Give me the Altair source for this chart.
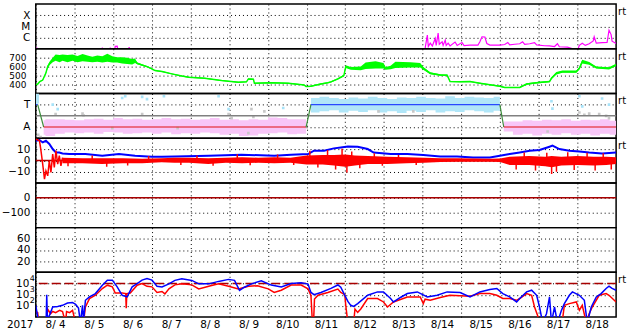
import altair as alt
import pandas as pd

W, H = 584, 45
FONT = "DejaVu Sans"
FS = 10.5

# ---------------- x axis (hours since 2017-08-04 00:00) ----------------
day_hours = list(range(0, 337, 24))

# ---------------- panel 1 : X-ray flux (log10 W/m2) ----------------
xray_h = [0, 0.6, 1.2, 40.7, 41.3, 41.9, 45.6, 46.2, 46.8, 48.7, 49.3, 50.5, 51.2, 57.3, 57.9, 58.6,
          241.0, 241.6, 242.9, 243.5, 244.7, 246.0, 247.8, 248.4, 249.6, 250.3,
          252.1, 252.7, 254.0, 254.6, 255.8, 257.0, 260.1, 261.4, 264.4, 265.7,
          269.4, 274.3, 275.5, 276.8, 278.6, 279.8, 281.7, 287.9, 290.9, 292.8,
          294.0, 297.1, 300.2, 302.0, 303.3, 306.4, 309.4, 310.7, 315.6, 318.7,
          321.8, 323.6, 324.8, 329.8, 332.2, 335.9, 337.2, 339.0, 340.9, 343.3,
          345.8, 346.4, 347.7, 351.3, 354.4, 355.6, 356.9, 357.5, 360]
xray_log = [-7.3, -6.9, -7.3, -7.3, -6.9, -7.3, -7.3, -6.9, -7.3, -7.3, -6.78, -6.76, -7.3, -7.3, -6.85, -7.3,
            -7.3, -6.9, -5.78, -6.8, -6.5, -6.75, -6.08, -6.7, -5.6, -6.6,
            -6.38, -6.7, -6.23, -6.7, -6.5, -6.75, -6.4, -6.7, -6.45, -6.72,
            -6.67, -6.67, -6.38, -5.93, -5.95, -6.53, -6.67, -6.67, -6.62, -6.44,
            -6.65, -6.6, -6.55, -6.38, -6.6, -6.55, -6.45, -6.65, -6.73, -6.75,
            -6.8, -6.55, -6.82, -6.85, -6.95, -7.2, -6.7, -6.5, -6.7, -6.55,
            -6.3, -5.93, -6.5, -6.45, -6.44, -5.34, -5.73, -6.32, -6.53]

# ---------------- panel 2 : solar wind speed ----------------
sw_h = [0, 1.2, 2.5, 4.3, 6.2, 7.4, 8.6, 10.5, 12.3, 14.8,
        16.6, 19.7, 22.8, 25.9, 29.0, 32.1, 35.1, 38.2, 41.3, 44.4,
        47.5, 50.5, 53.6, 56.7, 59.8, 61.6, 62.9, 65.9, 69.0, 72.1,
        74.0, 78.3, 84.4, 90.6, 94.9, 104.8, 115.3, 125.7, 130.7, 131.9,
        135.0, 135.6, 146.1, 156.6, 166.4, 167.7, 170.7, 176.9, 181.2, 183.1,
        187.4, 191.1, 192.3, 193.6, 195.4, 201.6, 204.6, 210.8, 215.7, 217.0,
        220.1, 223.1, 232.4, 238.5, 240.4, 244.7, 250.9, 255.2, 257.0, 263.2,
        269.4, 275.5, 287.9, 290.9, 300.2, 304.5, 310.7, 318.7, 319.9, 323.0,
        326.7, 335.3, 337.2, 339.0, 343.3, 347.7, 355.6, 360]
sw_v = [397, 405, 433, 450, 525, 600, 637, 674, 700, 690,
        700, 690, 700, 685, 700, 690, 680, 690, 680, 700,
        680, 675, 670, 665, 655, 665, 637, 619, 600, 575,
        556, 545, 519, 495, 481, 470, 444, 426, 430, 463,
        460, 415, 419, 415, 396, 378, 381, 407, 420, 430,
        463, 500, 600, 592, 581, 581, 610, 620, 610, 581,
        590, 620, 620, 615, 581, 526, 507, 505, 433, 430,
        433, 415, 380, 367, 367, 405, 420, 433, 470, 526,
        544, 544, 581, 656, 637, 590, 581, 619]
sw_n = [3, 3, 5, 5, 10, 15, 20, 25, 35, 40,
        35, 40, 35, 35, 40, 35, 30, 35, 35, 45,
        35, 30, 35, 35, 30, 25, 10, 8, 6, 6,
        5, 6, 5, 6, 5, 6, 5, 5, 5, 6,
        5, 5, 6, 5, 5, 5, 5, 6, 6, 8,
        8, 10, 15, 15, 15, 20, 35, 40, 30, 15,
        20, 35, 30, 25, 15, 10, 8, 8, 6, 5,
        5, 5, 5, 5, 5, 8, 8, 8, 10, 15,
        12, 12, 12, 20, 15, 12, 12, 12]

# ---------------- panel 3 : IMF polarity (T = +1, A = -1) ----------------
pol_seg = ["b1", "b1", "g1", "g1", "r1", "r1", "g2", "g2", "b2", "b2", "g3", "g3", "r2", "r2"]
pol_h = [0, 1.2, 1.2, 4.9, 4.9, 167.7, 167.7, 170.7, 170.7, 287.9, 287.9, 290.3, 290.3, 360]
pol_v = [1, 1, 1, -1, -1, -1, -1, 1, 1, 1, 1, -1, -1, -1]

pinkA_h = [4.9, 6, 12, 18, 24, 30, 36, 42, 48, 54, 60, 66, 72, 78, 84, 90, 96, 102, 108, 114,
           120, 126, 132, 138, 144, 150, 156, 162, 167.7]
pinkA_lo = [-1.7, -1.8, -1.6, -1.5, -1.55, -1.5, -1.6, -1.45, -1.5, -1.6, -1.55, -1.5, -1.6, -1.5, -1.65,
            -1.55, -1.6, -1.5, -1.55, -1.7, -1.6, -1.8, -1.75, -1.6, -1.55, -1.5, -1.65, -1.6, -1.5]
pinkA_hi = [-0.4, -0.3, -0.3, -0.35, -0.4, -0.3, -0.25, -0.35, -0.2, -0.3, -0.25, -0.35, -0.3, -0.2, -0.3,
            -0.25, -0.35, -0.3, -0.2, -0.35, -0.3, -0.4, -0.3, -0.35, -0.15, -0.2, -0.3, -0.3, -0.4]
pinkB_h = [290.3, 296, 302, 308, 314, 320, 326, 332, 338, 344, 350, 356, 360]
pinkB_lo = [-1.4, -1.7, -1.6, -1.75, -1.6, -1.7, -1.55, -1.7, -1.6, -1.75, -1.6, -1.7, -1.6]
pinkB_hi = [-0.5, -0.5, -0.4, -0.45, -0.35, -0.4, -0.3, -0.45, -0.35, -0.4, -0.3, -0.45, -0.4]

lblue_h = [0, 1.2, 2.0, 170.7, 176, 182, 188, 194, 200, 206, 212, 218, 224, 230, 236, 242, 248, 254,
           260, 266, 272, 278, 284, 287.9]
lblue_seg = ["a", "a", "a"] + ["b"] * 21
lblue_lo = [1.0, 1.1, 1.3, 0.3, 0.4, 0.5, 0.3, 0.45, 0.35, 0.5, 0.3, 0.4, 0.25, 0.45, 0.35, 0.5, 0.3, 0.4,
            0.35, 0.5, 0.4, 0.3, 0.45, 0.5]
lblue_hi = [2.0, 2.0, 1.9, 1.6, 1.7, 1.6, 1.5, 1.65, 1.55, 1.7, 1.6, 1.5, 1.65, 1.6, 1.7, 1.6, 1.55, 1.75,
            1.6, 1.7, 1.65, 1.6, 1.7, 1.6]

cyan_h = [10.5, 13.6, 53.6, 55.5, 66.0, 69.0, 79.5, 113.4, 119.6, 153.5, 319.9, 320.5, 337.2, 339.0, 351.3, 355.6]
cyan_v = [1.0, 0.6, 1.6, 1.75, 1.7, 1.5, 1.75, 1.75, 0.6, 0.7, 1.3, 0.65, 1.75, 0.85, 1.55, 1.0]
gray_h = [1.5, 3.0, 12.3, 29.0, 29.6, 47.5, 66.0, 88.0, 119.6, 121.5, 131.9, 141.8, 133.8, 135.0,
          212.6, 234.2, 317.5, 337.2, 340.3, 343.3, 349.5, 353.8, 355.6]
gray_v = [-1.7, -1.9, 0.15, 0.2, 0.05, -1.1, 0.15, -1.1, 0.15, -0.2, -1.55, 0.4, 0.6, -0.1,
          0.4, 0.4, -1.4, 0.3, 0.1, 0.2, 0.15, 0.0, -0.2]

# ---------------- panel 4 : IMF Bt (blue) and Bz (red), nT ----------------
bt_h = [0, 2.3, 4.3, 6.3, 8.4, 10.5, 12.5, 14.6, 16.6, 20.8,
        30.8, 41.3, 51.6, 61.6, 72.1, 78.3, 86.3, 107.3, 127.6, 147.9,
        158.4, 168.9, 172.6, 178.8, 184.9, 189.2, 193.6, 199.7, 205.9, 209.6,
        220.1, 230.5, 240.4, 250.9, 261.4, 271.2, 281.7, 287.9, 294.0, 300.2,
        306.4, 312.5, 318.7, 320.5, 324.8, 331.0, 337.2, 343.3, 351.3, 360]
bt_v = [17.7, 18.4, 16.2, 17.7, 14.8, 10.3, 7.2, 7.2, 6.3, 5.8,
        5.8, 4.3, 5.8, 4.3, 3.4, 3.4, 3.7, 4.3, 5.2, 4.3,
        5.2, 5.8, 8.8, 8.8, 10.9, 11.7, 12.6, 12.4, 10.3, 7.2,
        5.8, 5.8, 4.9, 3.7, 3.7, 2.7, 2.7, 4.3, 5.8, 7.2,
        8.8, 9.4, 12.4, 13.3, 10.3, 8.8, 8.1, 7.2, 6.3, 7.2]
bz1_h = [0, 2.3, 3.1, 4.3, 5.4, 6.3, 7.4, 8.4, 9.4, 10.5, 11.5, 12.5, 13.6, 14.6, 15.6, 16.6]
bz1_v = [19.3, 17.7, 10.3, -3.2, -16.7, -9.2, -13.7, -0.2, -10.7, 5.8, -6.2, 8.8, -3.2, 4.3, -4.7, 2.7]
# dense core of the Bz trace
bz_h = [16.6, 29, 41, 54, 66, 78, 86, 95, 107, 118,
        128, 138, 148, 158, 168, 178, 185, 192, 198, 206,
        218, 230, 241, 251, 262, 272, 282, 288, 294, 306,
        316, 320, 326, 336, 346, 354, 360]
bz_lo = [-2.5, -2.5, -3, -2.5, -2.5, -1.5, -2, -2, -3, -2,
         -2.5, -2, -2.5, -2, -3.5, -3.5, -4.5, -5.5, -4.5, -3,
         -3, -2.5, -2, -1.2, -1, -1, -1, -1.2, -4, -4,
         -5, -6, -4.5, -4, -4.5, -4, -3]
bz_hi = [2.5, 2, 2, 2, 1.5, 2, 2.5, 2.5, 2, 2.5,
         3, 2.5, 3, 2.5, 4.5, 5, 5, 5.5, 4.5, 4,
         3.5, 3, 2.5, 2, 2, 1.8, 1.5, 1.8, 3.5, 4,
         3.5, 4, 3.5, 4, 3.5, 3.5, 3]
# isolated Bz excursions
bzs_h = [20, 35, 44, 57, 70, 90, 100, 110, 125, 133, 150, 160, 170, 175, 181, 186, 190, 193, 196,
         201, 210, 215, 225, 236, 298, 303, 310, 317, 320, 323, 330, 334, 342, 347, 352, 357]
bzs_v = [-5, 4.5, -5.5, -4.5, 4, -4, 4.5, -4.7, 5.6, -4.2, 5.5, -4, 8.8, -6.2, 9.5, -8, 10.5, -10.7, 8,
         -7, 6.6, -4.7, 5, -4, -8, 7.2, -9, 7, -12, -10, 7.5, -8.5, 7, -9, 6.5, -8]

# ---------------- panel 7 : electron flux (log10) ----------------
eb_h = [0, 1.8, 6.4, 6.8, 7.2, 8.6, 10.5, 13.6, 16.6, 19.7,
        22.8, 24.7, 26.5, 27.7, 29.0, 29.6, 30.8, 33.3, 37.0, 41.3,
        44.4, 47.5, 50.5, 53.6, 56.7, 59.8, 62.9, 65.9, 69.0, 72.1,
        75.2, 78.3, 82.6, 86.3, 90.6, 96.8, 101.1, 107.3, 113.4, 119.6,
        123.3, 126.4, 129.4, 133.8, 139.9, 146.1, 152.3, 158.4, 164.6, 168.9,
        170.7, 172.6, 176.9, 183.1, 187.4, 189.2, 193.6, 195.4, 197.2, 199.7,
        205.9, 212.0, 215.7, 220.1, 221.9, 226.2, 230.5, 236.7, 242.9, 249.0,
        255.2, 263.2, 269.4, 275.5, 281.7, 286.0, 289.7, 294.0, 298.3, 300.2,
        304.5, 307.6, 310.7, 312.5, 314.4, 316.8, 318.7, 319.9, 321.8, 323.6,
        326.1, 327.9, 331.0, 332.9, 337.2, 340.3, 342.1, 344.6, 347.7, 350.7,
        353.8, 355.6, 357.5, 360]
eb_log = [2.05, 0.5, 0.5, 3.0, 0.8, 1.2, 1.9, 1.95, 2.05, 2.25,
          2.3, 2.15, 1.8, 0.5, 2.05, 0.6, 2.5, 2.8, 3.1, 3.85,
          4.3, 4.3, 3.7, 2.95, 2.8, 3.7, 4.0, 4.3, 4.45, 4.3,
          3.75, 3.7, 3.97, 4.28, 4.42, 4.28, 3.97, 3.97, 4.19, 4.37,
          4.28, 3.38, 3.67, 3.97, 4.24, 3.86, 3.7, 4.0, 4.06, 3.95,
          3.2, 3.0, 3.2, 3.56, 3.87, 3.67, 2.4, 2.05, 1.95, 2.2,
          2.95, 3.25, 3.25, 2.66, 2.35, 2.75, 3.1, 3.25, 2.8, 2.95,
          3.25, 3.2, 2.8, 3.25, 3.47, 3.56, 3.1, 2.8, 2.35, 2.66,
          3.25, 3.4, 2.95, 1.9, 0.5, 1.3, 2.8, 0.5, 1.9, 0.5,
          1.6, 2.2, 2.95, 3.25, 2.95, 2.5, 0.5, 1.9, 2.8, 3.1,
          3.56, 3.77, 3.56, 3.4]
er_h = [0, 1.2, 1.8, 6.5, 7.4, 9.2, 10.5, 12.3, 14.8, 16.6,
        18.5, 19.1, 21.0, 22.8, 24.7, 29.6, 30.8, 33.3, 37.0, 41.3,
        44.4, 47.5, 49.3, 53.6, 55.8, 56.1, 56.5, 58.6, 62.9, 65.9,
        69.0, 72.1, 75.2, 78.3, 80.1, 82.6, 86.3, 90.6, 96.8, 101.1,
        107.3, 113.4, 119.6, 125.7, 131.9, 137.5, 144.2, 147.9, 152.3, 158.4,
        164.6, 168.9, 170.7, 171.6, 172.3, 172.9, 175.1, 181.2, 187.4, 189.2,
        191.7, 192.3, 193.6, 197.2, 198.0, 199.7, 201.6, 205.9, 212.0, 215.7,
        218.2, 221.9, 230.5, 238.5, 240.4, 241.5, 244.7, 250.9, 257.0, 269.4,
        275.5, 281.7, 286.0, 289.7, 294.0, 298.3, 300.2, 304.5, 307.6, 309.4,
        311.3, 312.5, 326.5, 327.9, 331.0, 335.3, 337.2, 339.0, 341.5, 343.3,
        345.2, 349.5, 353.8, 355.6, 360]
er_log = [1.5, 1.4, 0.5, 0.5, 1.7, 1.3, 1.5, 1.4, 1.6, 1.5,
          0.5, 1.5, 1.4, 1.6, 0.5, 0.5, 1.9, 2.65, 2.95, 3.55,
          3.85, 3.7, 3.15, 3.15, 3.1, 1.8, 3.1, 3.15, 3.85, 4.0,
          3.75, 3.7, 3.2, 3.29, 3.07, 3.52, 3.88, 3.97, 3.88, 3.52,
          3.76, 3.97, 3.76, 3.52, 3.76, 3.8, 3.52, 3.2, 3.4, 3.86,
          3.86, 3.52, 2.93, 0.5, 0.5, 2.62, 2.95, 3.2, 3.5, 3.2,
          3.0, 2.03, 0.5, 0.5, 1.72, 1.42, 1.72, 2.66, 2.66, 2.35,
          1.9, 2.35, 2.8, 2.8, 2.2, 2.6, 2.5, 2.75, 2.95, 2.86,
          3.1, 3.1, 2.95, 2.66, 2.66, 2.5, 2.66, 3.1, 2.95, 1.9,
          1.15, 0.5, 0.5, 2.05, 2.2, 2.35, 1.6, 2.05, 0.5, 1.3,
          1.9, 2.95, 3.1, 2.95, 2.35]

# ---------------- tables ----------------
xray = pd.DataFrame({"h": xray_h, "v": [10 ** a for a in xray_log]})
sw = pd.DataFrame({"h": sw_h, "v": sw_v,
                   "lo": [v - n for v, n in zip(sw_v, sw_n)],
                   "hi": [v + n for v, n in zip(sw_v, sw_n)]})
pol_colors = {"b": "#2848ff", "g": "#3c8c3c", "r": "#e01010"}
pol = pd.DataFrame({"seg": pol_seg, "h": pol_h, "v": pol_v,
                    "c": [pol_colors[s[0]] for s in pol_seg]})
pink = pd.DataFrame({"h": pinkA_h + pinkB_h, "lo": pinkA_lo + pinkB_lo, "hi": pinkA_hi + pinkB_hi,
                     "seg": ["a"] * len(pinkA_h) + ["b"] * len(pinkB_h)})
lblue = pd.DataFrame({"h": lblue_h, "lo": lblue_lo, "hi": lblue_hi, "seg": lblue_seg})
cyan = pd.DataFrame({"h": cyan_h, "v": cyan_v})
gray = pd.DataFrame({"h": gray_h, "v": gray_v})
bt = pd.DataFrame({"h": bt_h, "v": bt_v})
bz1 = pd.DataFrame({"h": bz1_h, "v": bz1_v})
bz = pd.DataFrame({"h": bz_h, "lo": bz_lo, "hi": bz_hi})
bzs = pd.DataFrame({"h": bzs_h, "v": bzs_v, "z": [0] * len(bzs_h)})
eb = pd.DataFrame({"h": eb_h, "v": [10 ** a for a in eb_log]})
er = pd.DataFrame({"h": er_h, "v": [10 ** a for a in er_log]})
one = pd.DataFrame({"a": [0]})


def X(labels=False):
    ax = dict(values=day_hours, grid=True, gridColor="black", gridDash=[1, 3], gridWidth=1,
              gridOpacity=1, ticks=False, domain=False, title=None, labels=labels)
    if labels:
        ax.update(labelExpr="'8/' + (datum.value/24 + 4 < 10 ? ' ' : '') + (datum.value/24 + 4)",
                  labelOffset=W / 30.0, labelFlush=False, labelOverlap=False, labelPadding=3,
                  labelBound=False)
    return alt.X("h:Q", scale=alt.Scale(domain=[0, 360], nice=False, zero=False), axis=alt.Axis(**ax))


def Y(field, domain, values, expr=None, pad=6, log=False, fs=FS):
    if log:
        sc = alt.Scale(domain=domain, type="log", nice=False)
    else:
        sc = alt.Scale(domain=domain, nice=False, zero=False)
    ax = dict(values=values, grid=True, gridColor="black", gridDash=[1, 3], gridWidth=1, gridOpacity=1,
              ticks=False, tickSize=0, domain=False, title=None, labelPadding=pad,
              labelOverlap=False, labelFlush=False, labelBound=False, labelFontSize=fs)
    if expr:
        ax["labelExpr"] = expr
    return alt.Y(field, scale=sc, axis=alt.Axis(**ax))


def rt():
    return alt.Chart(one).mark_text(align="left", baseline="alphabetic", font=FONT, fontSize=10,
                                    color="black").encode(x=alt.value(W + 2), y=alt.value(11),
                                                          text=alt.value("rt"))


# ---------- panel 1 ----------
d1 = [1e-7, 1e-3]
v1 = [1e-6, 1e-5, 1e-4]
e1 = "datum.value > 5e-5 ? 'X' : (datum.value > 5e-6 ? 'M' : 'C')"
p1 = alt.layer(
    alt.Chart(xray).mark_line(color="#ff00ff", strokeWidth=1.2, clip=True).encode(
        x=X(), y=Y("v:Q", d1, v1, e1, log=True)),
    rt(),
).properties(width=W, height=H)

# ---------- panel 2 ----------
d2 = [300, 800]
v2 = [400, 500, 600, 700]
p2 = alt.layer(
    alt.Chart(sw).mark_area(color="#00ff00", clip=True).encode(
        x=X(), y=Y("lo:Q", d2, v2, pad=10, fs=9), y2="hi:Q"),
    alt.Chart(sw).mark_line(color="#00ff00", strokeWidth=1.5, clip=True).encode(
        x=X(), y=Y("v:Q", d2, v2, pad=10, fs=9)),
    rt(),
).properties(width=W, height=H)

# ---------- panel 3 ----------
d3 = [-2, 2]
v3 = [1, -1]
e3 = "datum.value > 0 ? 'T' : 'A'"
p3 = alt.layer(
    alt.Chart(pink).mark_area(color="#f8c6f8", interpolate="step-after", clip=True).encode(
        x=X(), y=Y("lo:Q", d3, v3, e3), y2="hi:Q", detail="seg:N"),
    alt.Chart(lblue).mark_area(color="#b0e6f8", interpolate="step-after", clip=True).encode(
        x=X(), y=Y("lo:Q", d3, v3, e3), y2="hi:Q", detail="seg:N"),
    alt.Chart(cyan).mark_square(color="#a6e2f8", size=7, opacity=1, clip=True).encode(
        x=X(), y=Y("v:Q", d3, v3, e3)),
    alt.Chart(gray).mark_square(color="#c8c8c8", size=7, opacity=1, clip=True).encode(
        x=X(), y=Y("v:Q", d3, v3, e3)),
    alt.Chart(pd.DataFrame({"v": [0]})).mark_rule(color="#808080", strokeWidth=1.5).encode(
        y=Y("v:Q", d3, v3, e3)),
    alt.Chart(pol).mark_line(strokeWidth=1.2, clip=True).encode(
        x=X(), y=Y("v:Q", d3, v3, e3), detail="seg:N", color=alt.Color("c:N", scale=None)),
    rt(),
).properties(width=W, height=H)

# ---------- panel 4 ----------
d4 = [-20, 20]
v4 = [10, 0, -10]
p4 = alt.layer(
    alt.Chart(pd.DataFrame({"v": [0]})).mark_rule(color="#b00000", strokeWidth=1.5).encode(
        y=Y("v:Q", d4, v4)),
    alt.Chart(bt).mark_line(color="#0000ff", strokeWidth=2, clip=True).encode(
        x=X(), y=Y("v:Q", d4, v4)),
    alt.Chart(bz).mark_area(color="#ff0000", clip=True).encode(
        x=X(), y=Y("lo:Q", d4, v4), y2="hi:Q"),
    alt.Chart(bzs).mark_rule(color="#ff0000", strokeWidth=1.5, clip=True).encode(
        x=X(), y=Y("z:Q", d4, v4), y2="v:Q"),
    alt.Chart(bz1).mark_line(color="#ff0000", strokeWidth=1.5, clip=True).encode(
        x=X(), y=Y("v:Q", d4, v4)),
    rt(),
).properties(width=W, height=H)

# ---------- panel 5 ----------
d5 = [-200, 100]
v5 = [0, -100]
p5 = alt.layer(
    alt.Chart(pd.DataFrame({"h": [0, 360], "v": [0, 0]})).mark_point(opacity=0).encode(
        x=X(), y=Y("v:Q", d5, v5)),
    alt.Chart(pd.DataFrame({"v": [0]})).mark_rule(color="#a80000", strokeWidth=1.5).encode(
        y=Y("v:Q", d5, v5)),
).properties(width=W, height=H)

# ---------- panel 6 ----------
d6 = [0, 80]
v6 = [20, 40, 60]
p6 = alt.layer(
    alt.Chart(pd.DataFrame({"h": [0, 360], "v": [40, 40]})).mark_point(opacity=0).encode(
        x=X(), y=Y("v:Q", d6, v6)),
).properties(width=W, height=H)

# ---------- panel 7 ----------
d7 = [10, 1e5]
v7 = [100, 1000, 10000]
p7 = alt.layer(
    alt.Chart(pd.DataFrame({"v": [1e4]})).mark_rule(color="#a80000", strokeWidth=1.5,
                                                    strokeDash=[9, 4]).encode(
        y=Y("v:Q", d7, v7, "'10'", pad=7, log=True)),
    alt.Chart(er).mark_line(color="#ff0000", strokeWidth=1.5, clip=True).encode(
        x=X(True), y=Y("v:Q", d7, v7, "'10'", pad=7, log=True)),
    alt.Chart(eb).mark_line(color="#0000ff", strokeWidth=1.5, clip=True).encode(
        x=X(True), y=Y("v:Q", d7, v7, "'10'", pad=7, log=True)),
    alt.Chart(pd.DataFrame({"v": v7, "e": ["2", "3", "4"]})).mark_text(
        align="left", baseline="middle", dy=-5, font=FONT, fontSize=8, color="black").encode(
        x=alt.value(-6), y=Y("v:Q", d7, v7, "'10'", pad=7, log=True), text="e:N"),
    alt.Chart(one).mark_text(align="left", baseline="top", font=FONT, fontSize=FS, color="black").encode(
        x=alt.value(-29), y=alt.value(H + 3), text=alt.value("2017")),
    rt(),
    alt.Chart(one).mark_rule(strokeOpacity=0).encode(
        x=alt.value(-33), x2=alt.value(W + 16), y=alt.value(H + 17)),
).properties(width=W, height=H)

chart = alt.vconcat(
    p1, p2, p3, p4, p5, p6, p7, spacing=0, bounds="flush",
    padding={"left": 0, "top": 2, "right": 0, "bottom": 0},
).resolve_scale(x="independent", y="independent").configure_view(
    stroke="black", strokeWidth=1.5
).configure_axis(
    labelFont=FONT, labelFontSize=FS, labelColor="black"
)

chart.save("out.html", embed_options={"renderer": "svg", "actions": False})
